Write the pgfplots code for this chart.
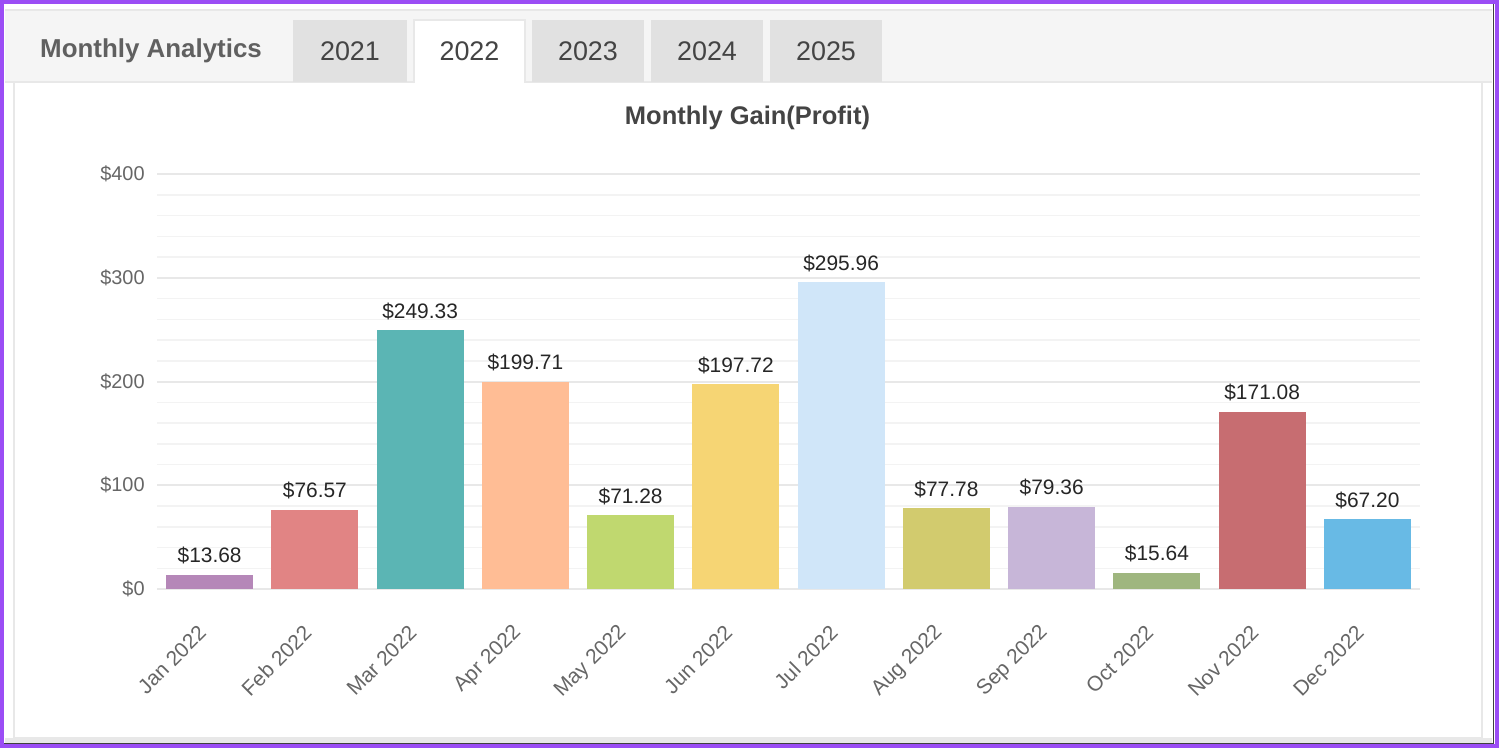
\documentclass[border=0pt]{standalone}
\usepackage{pgfplots}
\pgfplotsset{compat=1.18}
\usepackage{fontspec}
\setmainfont{Liberation Sans}

\definecolor{cJan}{HTML}{B587B8}
\definecolor{cFeb}{HTML}{E18484}
\definecolor{cMar}{HTML}{5BB5B4}
\definecolor{cApr}{HTML}{FFBD95}
\definecolor{cMay}{HTML}{C0D86F}
\definecolor{cJun}{HTML}{F6D574}
\definecolor{cJul}{HTML}{D0E6F9}
\definecolor{cAug}{HTML}{D2CB6E}
\definecolor{cSep}{HTML}{C7B6D8}
\definecolor{cOct}{HTML}{9FB67F}
\definecolor{cNov}{HTML}{C76D71}
\definecolor{cDec}{HTML}{68BAE5}
\definecolor{frame}{HTML}{9B4DF5}
\definecolor{band}{HTML}{F5F5F5}
\definecolor{tabgray}{HTML}{E1E1E1}
\definecolor{edge}{HTML}{E8E8E8}
\definecolor{txtdark}{HTML}{444444}
\definecolor{txtmid}{HTML}{666666}
\definecolor{gridmaj}{HTML}{E8E8E8}
\definecolor{gridmin}{HTML}{F3F3F3}

\begin{document}
\begin{tikzpicture}
% page background, tabs and frame, in pixels of the reference
\begin{scope}[x=0.5bp,y=-0.5bp]
  \useasboundingbox[fill=white] (0,0) rectangle (1499,748);
  \fill[band] (5,10) rectangle (1492,82);
  \draw[edge, line width=1bp] (5,10) -- (1492,10);
  \draw[edge, line width=1bp] (5,82) -- (1492,82);
  \fill[white] (14,82) rectangle (1482,738);
  \draw[edge, line width=1bp] (14,82) rectangle (1482,738);
  \fill[edge] (5,738) rectangle (1492,743);
  % tabs
  \fill[tabgray] (293,20) rectangle (407,82);
  \fill[white] (414,20) rectangle (525,83);
  \draw[edge, line width=0.75bp] (414,83) -- (414,20) -- (525,20) -- (525,83);
  \fill[tabgray] (532,20) rectangle (644,82);
  \fill[tabgray] (651,20) rectangle (763,82);
  \fill[tabgray] (770,20) rectangle (882,82);
  \node[font=\fontsize{13}{15}\selectfont\bfseries, text=txtdark!85] at (151,51) {Monthly Analytics};
  \foreach \x/\lab in {350/2021, 469.5/2022, 588/2023, 707/2024, 826/2025}
    \node[font=\fontsize{13.5}{16}\selectfont, text=txtdark] at (\x,51) {\lab};
  \node[font=\fontsize{12.8}{15}\selectfont\bfseries, text=txtdark] at (747.5,118) {Monthly Gain(Profit)};
  % frame
  \draw[frame, line width=2bp] (2,2) rectangle (1497,746);
  \draw[black!75, line width=0.75bp] (1493.5,4) -- (1493.5,743.5) -- (4,743.5);
\end{scope}

\begin{axis}[
    at={(78.5bp,-294.5bp)}, anchor=south west,
    scale only axis, width=631.5bp, height=207.5bp,
    xmin=-0.5, xmax=11.5, ymin=0, ymax=400,
    xtick={0,...,11},
    xticklabels={Jan 2022,Feb 2022,Mar 2022,Apr 2022,May 2022,Jun 2022,
                 Jul 2022,Aug 2022,Sep 2022,Oct 2022,Nov 2022,Dec 2022},
    ytick={0,100,...,400}, minor y tick num=4,
    ymajorgrids, yminorgrids,
    major grid style={draw=gridmaj, line width=1bp},
    minor grid style={draw=gridmin, line width=0.75bp},
    axis line style={draw=none},
    major tick length=0pt, minor tick length=0pt,
    /pgf/number format/assume math mode=true,
    yticklabel={\$\pgfmathprintnumber{\tick}},
    yticklabel style={font=\fontsize{10}{12}\selectfont, text=txtmid, inner sep=0pt, xshift=-6bp},
    xticklabel style={font=\fontsize{10.5}{12}\selectfont, text=txtmid, inner sep=0pt,
                      xshift=-3.5bp, yshift=-20bp, rotate=45, anchor=east},
    every axis plot/.append style={ybar, bar width=43.5bp, bar shift=0pt, draw=none},
    nodes near coords={\$\pgfmathprintnumber[fixed,fixed zerofill,precision=2]{\pgfplotspointmeta}},
    nodes near coords style={font=\fontsize{10.5}{12}\selectfont, text=black!85,
                             anchor=south, inner sep=0pt, yshift=5bp},
  ]
  \addplot[fill=cJan] coordinates {(0,13.68)};
  \addplot[fill=cFeb] coordinates {(1,76.57)};
  \addplot[fill=cMar] coordinates {(2,249.33)};
  \addplot[fill=cApr] coordinates {(3,199.71)};
  \addplot[fill=cMay] coordinates {(4,71.28)};
  \addplot[fill=cJun] coordinates {(5,197.72)};
  \addplot[fill=cJul] coordinates {(6,295.96)};
  \addplot[fill=cAug] coordinates {(7,77.78)};
  \addplot[fill=cSep] coordinates {(8,79.36)};
  \addplot[fill=cOct] coordinates {(9,15.64)};
  \addplot[fill=cNov] coordinates {(10,171.08)};
  \addplot[fill=cDec] coordinates {(11,67.20)};
\end{axis}
\end{tikzpicture}
\end{document}
